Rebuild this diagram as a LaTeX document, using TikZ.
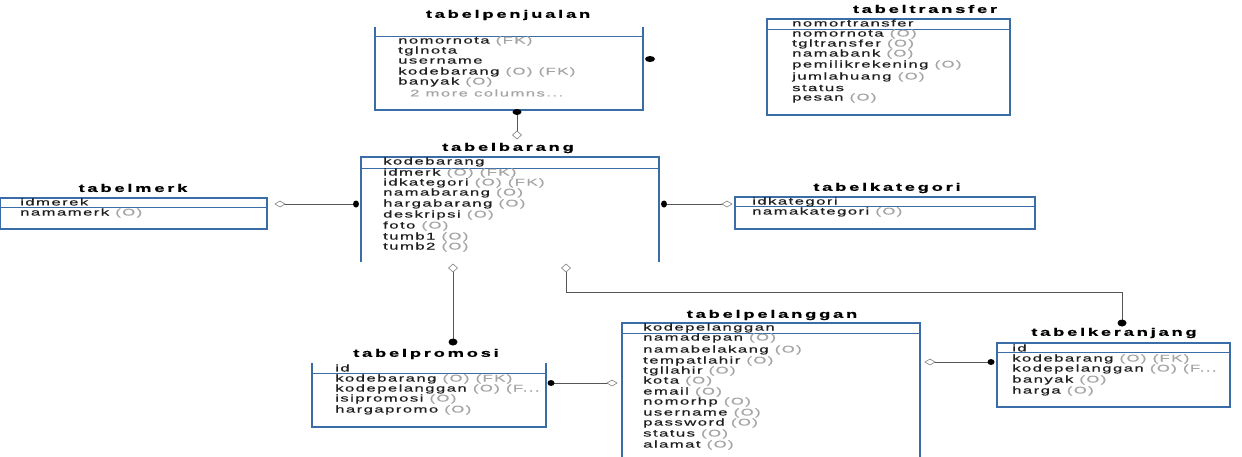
\documentclass[tikz,border=0pt]{standalone}
\usepackage{fontspec}
\setmainfont{Liberation Sans}
\newfontfamily\rowf[FakeStretch=1.72,LetterSpace=15,FakeBold=0.5]{Liberation Sans}
\newfontfamily\ttlf[FakeStretch=1.67,LetterSpace=25,FakeBold=0.7]{Liberation Sans Bold}
\definecolor{tblue}{RGB}{58,108,168}
\definecolor{optgray}{RGB}{165,165,165}
\definecolor{conngray}{RGB}{85,85,85}
\definecolor{rowtxt}{RGB}{30,30,30}
\newcommand\opt[1]{\textcolor{optgray}{#1}}
\tikzset{
  bline/.style={draw=tblue, line width=1.3pt},
  sepline/.style={draw=tblue, line width=1pt},
  row/.style={anchor=west, inner sep=0pt, font=\rowf\fontsize{9.7}{10}\selectfont, text=rowtxt},
  ttl/.style={anchor=center, inner sep=0pt, font=\ttlf\fontsize{11}{12}\selectfont, text=black},
  conn/.style={draw=conngray, line width=0.8pt},
  onedot/.style={fill=black},
  dia/.style={draw=gray, line width=0.6pt, fill=white}
}
\begin{document}
\begin{tikzpicture}[x=1pt,y=-1pt]
\useasboundingbox (0,0) rectangle (1242,456);
\fill[white] (0,0) rectangle (1242,456);

% ---------------- tabelpenjualan
\node[ttl] (tpj) at (508,15) {tabelpenjualan};
\draw[bline] (375,27) -- (375,110) -- (643,110) -- (643,27);
\draw[sepline] (375,36) -- (643,36);
\node[row] (pj1) at (398,41) {nomornota \opt{(FK)}};
\node[row] (pj2) at (398,51) {tglnota};
\node[row] (pj3) at (398,61) {username};
\node[row] (pj4) at (398,72) {kodebarang \opt{(O) (FK)}};
\node[row] (pj5) at (398,82) {banyak \opt{(O)}};
\node[row] (pj6) at (410,93) {\opt{2 more columns...}};

% ---------------- tabeltransfer
\node[ttl] (ttr) at (925,9) {tabeltransfer};
\draw[bline] (767,19) rectangle (1010,115);
\draw[sepline] (767,29) -- (1010,29);
\node[row] (tr1) at (792,23) {nomortransfer};
\node[row] (tr2) at (792,34) {nomornota \opt{(O)}};
\node[row] (tr3) at (792,44) {tgltransfer \opt{(O)}};
\node[row] (tr4) at (792,54) {namabank \opt{(O)}};
\node[row] (tr5) at (792,65) {pemilikrekening \opt{(O)}};
\node[row] (tr6) at (792,77) {jumlahuang \opt{(O)}};
\node[row] (tr7) at (792,88) {status};
\node[row] (tr8) at (792,98) {pesan \opt{(O)}};

% ---------------- tabelbarang
\node[ttl] (tbr) at (508,148) {tabelbarang};
\draw[bline] (361,262) -- (361,157) -- (659,157) -- (659,262);
\draw[sepline] (361,168) -- (659,168);
\node[row] (br1) at (383,162) {kodebarang};
\node[row] (br2) at (383,173) {idmerk \opt{(O) (FK)}};
\node[row] (br3) at (383,183) {idkategori \opt{(O) (FK)}};
\node[row] (br4) at (383,193) {namabarang \opt{(O)}};
\node[row] (br5) at (383,204) {hargabarang \opt{(O)}};
\node[row] (br6) at (383,215) {deskripsi \opt{(O)}};
\node[row] (br7) at (383,226) {foto \opt{(O)}};
\node[row] (br8) at (383,237) {tumb1 \opt{(O)}};
\node[row] (br9) at (383,247) {tumb2 \opt{(O)}};

% ---------------- tabelmerk
\node[ttl] (tmk) at (133,188) {tabelmerk};
\draw[bline] (0.7,198) rectangle (267,229);
\draw[sepline] (0.7,207) -- (267,207);
\node[row] (mk1) at (20,202) {idmerek};
\node[row] (mk2) at (20,213) {namamerk \opt{(O)}};

% ---------------- tabelkategori
\node[ttl] (tkt) at (887,188) {tabelkategori};
\draw[bline] (735,197) rectangle (1035,229);
\draw[sepline] (735,206) -- (1035,206);
\node[row] (kt1) at (752,202) {idkategori};
\node[row] (kt2) at (752,212) {namakategori \opt{(O)}};

% ---------------- tabelpromosi
\node[ttl] (tpr) at (426,354) {tabelpromosi};
\draw[bline] (312,363) -- (312,427) -- (546,427) -- (546,363);
\draw[sepline] (312,373) -- (546,373);
\node[row] (pr1) at (335,368) {id};
\node[row] (pr2) at (335,379) {kodebarang \opt{(O) (FK)}};
\node[row] (pr3) at (335,389) {kodepelanggan \opt{(O) (F...}};
\node[row] (pr4) at (335,399) {isipromosi \opt{(O)}};
\node[row] (pr5) at (335,410) {hargapromo \opt{(O)}};

% ---------------- tabelpelanggan
\node[ttl] (tpl) at (772,315) {tabelpelanggan};
\draw[bline] (622,458) -- (622,323) -- (920,323) -- (920,458);
\draw[sepline] (622,333) -- (920,333);
\node[row] (pl1) at (643,328) {kodepelanggan};
\node[row] (pl2) at (643,338) {namadepan \opt{(O)}};
\node[row] (pl3) at (643,350) {namabelakang \opt{(O)}};
\node[row] (pl4) at (643,361) {tempatlahir \opt{(O)}};
\node[row] (pl5) at (643,371) {tgllahir \opt{(O)}};
\node[row] (pl6) at (643,381) {kota \opt{(O)}};
\node[row] (pl7) at (643,392) {email \opt{(O)}};
\node[row] (pl8) at (643,402) {nomorhp \opt{(O)}};
\node[row] (pl9) at (643,413) {username \opt{(O)}};
\node[row] (pl10) at (643,423) {password \opt{(O)}};
\node[row] (pl11) at (643,434) {status \opt{(O)}};
\node[row] (pl12) at (643,445) {alamat \opt{(O)}};

% ---------------- tabelkeranjang
\node[ttl] (tkr) at (1114,333) {tabelkeranjang};
\draw[bline] (997,343) rectangle (1230,407);
\draw[sepline] (997,352) -- (1230,352);
\node[row] (kr1) at (1012,348) {id};
\node[row] (kr2) at (1012,359) {kodebarang \opt{(O) (FK)}};
\node[row] (kr3) at (1012,369) {kodepelanggan \opt{(O) (F...}};
\node[row] (kr4) at (1012,380) {banyak \opt{(O)}};
\node[row] (kr5) at (1012,391) {harga \opt{(O)}};

% ---------------- connector end points
\coordinate (pjB) at (517,112);
\coordinate (brT) at (517,135);
\coordinate (pjR) at (650,59);
\coordinate (mkR) at (280,204);
\coordinate (brL) at (356,204);
\coordinate (brR) at (664,204);
\coordinate (ktL) at (727,204);
\coordinate (brB1) at (453,268);
\coordinate (prT) at (453,342);
\coordinate (brB2) at (566,268);
\coordinate (bend1) at (566,292);
\coordinate (bend2) at (1122,292);
\coordinate (krT) at (1122,323);
\coordinate (prR) at (551,383);
\coordinate (plL) at (612,383);
\coordinate (plR) at (930,362);
\coordinate (krL) at (991,362);

% connectors
\draw[conn] (pjB) -- (brT);
\draw[conn] (mkR) -- (brL);
\draw[conn] (brR) -- (ktL);
\draw[conn] (brB1) -- (prT);
\draw[conn] (brB2) -- (bend1) -- (bend2) -- (krT);
\draw[conn] (prR) -- (plL);
\draw[conn] (plR) -- (krL);

% "one" ends
\fill[onedot] (pjB) ellipse (4.5pt and 3pt);
\fill[onedot] (pjR) ellipse (5pt and 3pt);
\fill[onedot] (brL) ellipse (3pt and 3.5pt);
\fill[onedot] (brR) ellipse (3pt and 3.5pt);
\fill[onedot] (prT) ellipse (4.5pt and 3.5pt);
\fill[onedot] (krT) ellipse (4.5pt and 3.5pt);
\fill[onedot] (prR) ellipse (3.5pt and 3pt);
\fill[onedot] (krL) ellipse (3.5pt and 3pt);

% "many" hollow diamonds
\draw[dia] (brT) +(-4.5,0) -- +(0,-4) -- +(4.5,0) -- +(0,4) -- cycle;
\draw[dia] (brB1) +(-4.5,0) -- +(0,-4) -- +(4.5,0) -- +(0,4) -- cycle;
\draw[dia] (brB2) +(-4.5,0) -- +(0,-4) -- +(4.5,0) -- +(0,4) -- cycle;
\draw[dia] (mkR) +(-5,0) -- +(0,-3) -- +(5,0) -- +(0,3) -- cycle;
\draw[dia] (ktL) +(-5,0) -- +(0,-3) -- +(5,0) -- +(0,3) -- cycle;
\draw[dia] (plL) +(-5,0) -- +(0,-3) -- +(5,0) -- +(0,3) -- cycle;
\draw[dia] (plR) +(-5,0) -- +(0,-3) -- +(5,0) -- +(0,3) -- cycle;
\end{tikzpicture}
\end{document}
